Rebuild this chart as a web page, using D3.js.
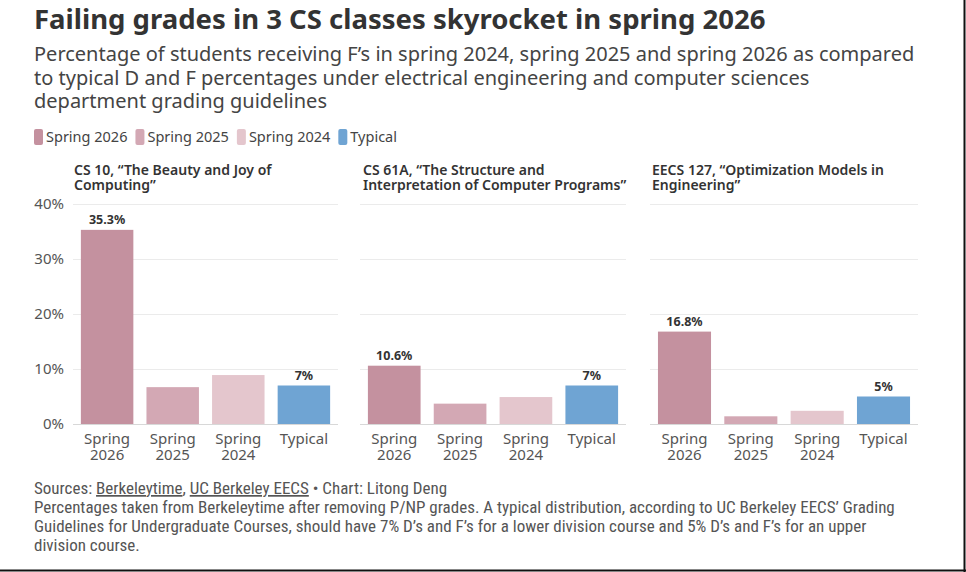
<html>
<head>
  <meta charset="utf-8">
  <title>Failing grades in 3 CS classes</title>
  <style>
    body { margin: 0; background: #fff; }
    text { font-family: "Noto Sans", "Open Sans", sans-serif; }
    .foot { font-family: "Liberation Sans Narrow", "Roboto Condensed", "Roboto", sans-serif; }
  </style>
  <script src="https://d3js.org/d3.v7.min.js"></script>
</head>
<body>
  <div id="chart"></div>
  <script>
    // Data
    const seriesNames = ["Spring 2026", "Spring 2025", "Spring 2024", "Typical"];
    const tickLabels = [["Spring", "2026"], ["Spring", "2025"], ["Spring", "2024"], ["Typical"]];
    const courseTitles = [
      ["CS 10, \u201cThe Beauty and Joy of", "Computing\u201d"],
      ["CS 61A, \u201cThe Structure and", "Interpretation of Computer Programs\u201d"],
      ["EECS 127, \u201cOptimization Models in", "Engineering\u201d"]
    ];
    const cs10 = [35.3, 6.7, 8.9, 7];
    const cs61a = [10.6, 3.7, 4.9, 7];
    const eecs127 = [16.8, 1.4, 2.4, 5];
    const labels10 = ["35.3%", null, null, "7%"];
    const labels61a = ["10.6%", null, null, "7%"];
    const labels127 = ["16.8%", null, null, "5%"];
    const yTicks = [0, 10, 20, 30, 40];

    const colors = ["#c4919f", "#d3a8b4", "#e4c6cd", "#6fa4d3"];
    const W = 966, H = 572;

    const svg = d3.select("#chart").append("svg")
      .attr("width", W).attr("height", H);

    svg.append("rect").attr("width", W).attr("height", H).attr("fill", "#fff");

    // Title block
    svg.append("text").attr("x", 34).attr("y", 29)
      .attr("font-size", 27.5).attr("font-weight", 700).attr("fill", "#333")
      .text("Failing grades in 3 CS classes skyrocket in spring 2026");

    const sub = [
      "Percentage of students receiving F\u2019s in spring 2024, spring 2025 and spring 2026 as compared",
      "to typical D and F percentages under electrical engineering and computer sciences",
      "department grading guidelines"
    ];
    svg.append("g").selectAll("text").data(sub).join("text")
      .attr("x", 34).attr("y", (d, i) => 61 + i * 23.5)
      .attr("font-size", 20).attr("fill", "#444")
      .text(d => d);

    // Legend
    const legend = svg.append("g").attr("transform", "translate(34,137)");
    let lx = 0;
    seriesNames.forEach((name, i) => {
      legend.append("rect").attr("x", lx).attr("y", -8).attr("width", 9).attr("height", 16)
        .attr("rx", 2).attr("fill", colors[i]);
      const t = legend.append("text").attr("x", lx + 12).attr("y", 5)
        .attr("font-size", 14.5).attr("fill", "#444").text(name);
      lx += 12 + t.node().getComputedTextLength() + 8;
    });

    // Panels
    const panels = [
      { title: courseTitles[0], values: cs10, labels: labels10, x0: 73, x1: 338, tx: 74 },
      { title: courseTitles[1], values: cs61a, labels: labels61a, x0: 360, x1: 626, tx: 363 },
      { title: courseTitles[2], values: eecs127, labels: labels127, x0: 650, x1: 918, tx: 652 }
    ];

    const y = d3.scaleLinear().domain([0, 40]).range([424, 204]);

    panels.forEach((p, pi) => {
      const g = svg.append("g");
      const x = d3.scaleBand().domain(d3.range(4)).range([p.x0, p.x1])
        .paddingInner(0.2).paddingOuter(0.12);

      g.append("g").selectAll("text").data(p.title).join("text")
        .attr("x", p.tx).attr("y", (d, i) => 175 + i * 14.5)
        .attr("font-size", 14).attr("font-weight", 600).attr("fill", "#333")
        .text(d => d);

      // grid lines
      g.append("g").selectAll("line").data(yTicks).join("line")
        .attr("x1", p.x0).attr("x2", p.x1)
        .attr("y1", d => y(d) + 0.5).attr("y2", d => y(d) + 0.5)
        .attr("stroke", d => d === 0 ? "#d8d8d8" : "#ebebeb").attr("stroke-width", 1);

      if (pi === 0) {
        g.append("g").selectAll("text").data(yTicks).join("text")
          .attr("x", 64).attr("y", d => y(d) + 5)
          .attr("text-anchor", "end").attr("font-size", 15).attr("fill", "#555")
          .text(d => d + "%");
      }

      g.append("g").selectAll("rect").data(p.values).join("rect")
        .attr("x", (d, i) => x(i)).attr("width", x.bandwidth())
        .attr("y", d => y(d)).attr("height", d => y(0) - y(d))
        .attr("fill", (d, i) => colors[i]);

      g.append("g").selectAll("text").data(p.values).join("text")
        .attr("x", (d, i) => x(i) + x.bandwidth() / 2)
        .attr("y", d => y(d) - 6)
        .attr("text-anchor", "middle").attr("font-size", 12.5).attr("font-weight", 700)
        .attr("fill", "#333")
        .text((d, i) => p.labels[i] || "");

      // x tick labels
      tickLabels.forEach((lines, i) => {
        g.append("g").selectAll("text").data(lines).join("text")
          .attr("x", x(i) + x.bandwidth() / 2)
          .attr("y", (d, k) => 444 + k * 16)
          .attr("text-anchor", "middle").attr("font-size", 15).attr("fill", "#555")
          .text(d => d);
      });
    });

    // Footer
    const foot = svg.append("g").attr("class", "foot").attr("font-size", 17).attr("fill", "#555");
    const l1 = foot.append("text").attr("class", "foot").attr("x", 34).attr("y", 494);
    l1.append("tspan").text("Sources: ");
    l1.append("tspan").attr("text-decoration", "underline").text("Berkeleytime");
    l1.append("tspan").text(", ");
    l1.append("tspan").attr("text-decoration", "underline").text("UC Berkeley EECS");
    l1.append("tspan").text(" \u2022 Chart: Litong Deng");
    const notes = [
      "Percentages taken from Berkeleytime after removing P/NP grades. A typical distribution, according to UC Berkeley EECS\u2019 Grading",
      "Guidelines for Undergraduate Courses, should have 7% D\u2019s and F\u2019s for a lower division course and 5% D\u2019s and F\u2019s for an upper",
      "division course."
    ];
    foot.selectAll("text.note").data(notes).join("text")
      .attr("class", "foot note").attr("x", 34).attr("y", (d, i) => 513 + i * 19)
      .text(d => d);

    // frame edges
    svg.append("line").attr("x1", 0).attr("x2", W).attr("y1", 570.5).attr("y2", 570.5)
      .attr("stroke", "#111").attr("stroke-width", 2);
    svg.append("line").attr("x1", 964.5).attr("x2", 964.5).attr("y1", 0).attr("y2", H)
      .attr("stroke", "#111").attr("stroke-width", 2);
  </script>
</body>
</html>
